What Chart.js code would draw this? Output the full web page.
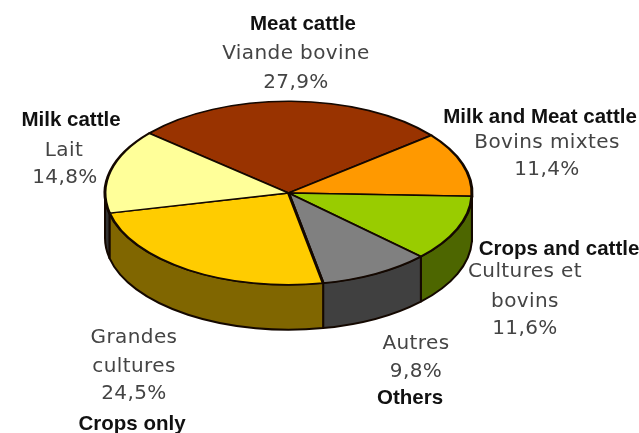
<!DOCTYPE html>
<html>
<head>
<meta charset="utf-8">
<title>Exploitations</title>
<script src="https://cdn.jsdelivr.net/npm/chart.js@4"></script>
<style>
    html, body { margin: 0; padding: 0; background: #fff; }
    #wrap { position: relative; width: 639px; height: 433px; overflow: hidden; }
</style>
</head>
<body>
<div id="wrap"><canvas id="farmChart" width="639" height="433"></canvas></div>
<script>
const categories = ['Viande bovine', 'Bovins mixtes', 'Cultures et bovins', 'Autres', 'Grandes cultures', 'Lait'];
const englishNames = ['Meat cattle', 'Milk and Meat cattle', 'Crops and cattle', 'Others', 'Crops only', 'Milk cattle'];
const shares = [27.9, 11.4, 11.6, 9.8, 24.5, 14.8];

const topColors = ['#993300', '#ff9900', '#99cc00', '#808080', '#ffcc00', '#ffff99'];
const sideColors = ['#4d1a00', '#804d00', '#4d6600', '#404040', '#806600', '#333333'];

const TILT = 0.5;
const DEPTH = 45;

// Text blocks around the pie: lines are [text source, centre x, baseline y]
const labelSlots = [
    { bold: [303, 30], lines: [['Viande bovine', 296, 59]], pct: [296, 88] },
    { bold: [540, 123], lines: [['Bovins mixtes', 547, 148]], pct: [547, 175] },
    { bold: [559, 255], lines: [['Cultures et', 525, 277], ['bovins', 525, 307]], pct: [525, 334] },
    { bold: [410, 404], lines: [['Autres', 416, 349]], pct: [416, 377] },
    { bold: [132, 430], lines: [['Grandes', 134, 343], ['cultures', 134, 372]], pct: [134, 399] },
    { bold: [71, 126], lines: [['Lait', 64, 156]], pct: [65, 183] }
];

const formatShare = (v) => v.toFixed(1).replace('.', ',') + '%';

const NORMAL_FONT = '20px "DejaVu Sans"';
const BOLD_FONT = 'bold 20.5px "Liberation Sans"';

// Squash the pie into an ellipse and put the rim wall underneath it
const tiltedPie = {
    id: 'tiltedPie',
    beforeDatasetsDraw(chart) {
        const ctx = chart.ctx;
        const arcs = chart.getDatasetMeta(0).data;
        const { x: cx, y: cy, outerRadius: r } = arcs[0].getProps(['x', 'y', 'outerRadius'], true);
        const ry = r * TILT;

        ctx.save();
        ctx.lineWidth = 2;
        ctx.strokeStyle = '#140800';
        ctx.lineJoin = 'round';
        arcs.forEach((arc, i) => {
            const { startAngle, endAngle } = arc.getProps(['startAngle', 'endAngle'], true);
            // only the front half of the rim is visible (0..PI on canvas), also one turn later
            [0, Math.PI * 2].forEach((turn) => {
                const a0 = Math.max(startAngle, turn);
                const a1 = Math.min(endAngle, turn + Math.PI);
                if (a1 <= a0) return;
                ctx.beginPath();
                ctx.ellipse(cx, cy, r, ry, 0, a0, a1);
                ctx.ellipse(cx, cy + DEPTH, r, ry, 0, a1, a0, true);
                ctx.closePath();
                ctx.fillStyle = sideColors[i];
                ctx.fill();
                ctx.stroke();
            });
        });
        ctx.restore();

        ctx.save();
        ctx.translate(cx, cy);
        ctx.scale(1, TILT);
        ctx.translate(-cx, -cy);
    },
    afterDatasetsDraw(chart) {
        chart.ctx.restore();
    },
    afterDraw(chart) {
        const ctx = chart.ctx;
        ctx.save();
        ctx.textAlign = 'center';
        ctx.textBaseline = 'alphabetic';
        labelSlots.forEach((slot, i) => {
            ctx.font = BOLD_FONT;
            ctx.fillStyle = '#111111';
            ctx.letterSpacing = '0px';
            ctx.fillText(englishNames[i], slot.bold[0], slot.bold[1]);

            ctx.font = NORMAL_FONT;
            ctx.fillStyle = '#444444';
            ctx.letterSpacing = '0.4px';
            slot.lines.forEach(([text, x, y]) => ctx.fillText(text, x, y));
            ctx.fillText(formatShare(shares[i]), slot.pct[0], slot.pct[1]);
        });
        ctx.restore();
    }
};

new Chart(document.getElementById('farmChart'), {
    type: 'pie',
    data: {
        labels: categories,
        datasets: [{
            data: shares,
            backgroundColor: topColors,
            borderColor: '#140800',
            borderWidth: 3,
            borderJoinStyle: 'round',
            hoverOffset: 0
        }]
    },
    options: {
        responsive: false,
        animation: false,
        rotation: -49.4,
        layout: { padding: { left: 103.5, right: 165.5, top: 8, bottom: 55 } },
        plugins: {
            legend: { display: false },
            tooltip: { enabled: false }
        }
    },
    plugins: [tiltedPie]
});
</script>
</body>
</html>
